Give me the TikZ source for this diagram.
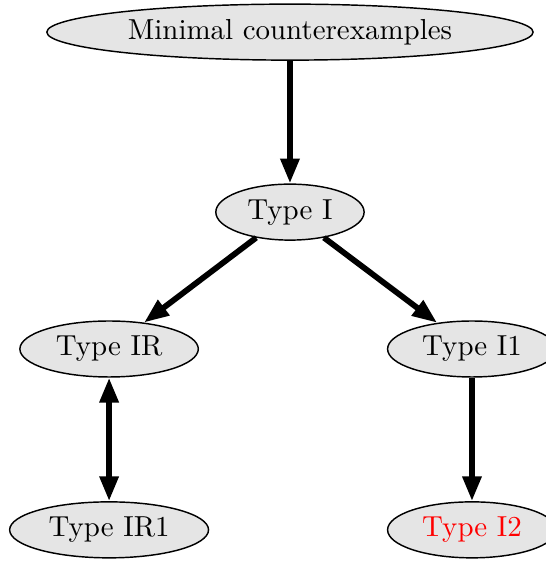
\documentclass[tikz,border=0pt]{standalone}
\usepackage{xcolor}
\usepackage{tikz}
\usetikzlibrary{positioning, calc, shapes.geometric, arrows.meta}
\tikzset{
	kind/.style={shape=ellipse, draw, line width=0.5pt, fill=gray!20, inner xsep=3.4pt, inner ysep=2.4pt},
	arr/.style={line width=2pt, -{Triangle[length=8.6pt, width=6.3pt]}},
	biarr/.style={line width=2pt, {Triangle[length=8.6pt, width=6.3pt]}-{Triangle[length=8.6pt, width=6.3pt]}}
}

\begin{document}
\begin{tikzpicture}[on grid, node distance = 62.2pt and 62.5pt]
\node[kind] (mc) {Minimal counterexamples};
\useasboundingbox ($(mc.center)+(-100.2pt,11.1pt)$) rectangle ($(mc.center)+(88.4pt,-183.8pt)$);
\node[kind, below = of mc] (ti) {Type I};

\node[kind, below left = 47.3pt and 62.5pt of ti] (tir) {Type IR};
\node[kind, below right = 47.3pt and 62.9pt of ti] (ti1) {Type I1};

\node[kind, below = 62.5pt of tir] (tir1) {Type IR1};
\node[kind, below = 62.5pt of ti1, text=red] (ti2) {Type I2};

\draw[arr] (mc) -- (ti);
\draw[arr] (ti) -- (tir);
\draw[arr] (ti) -- (ti1);
\draw[biarr] (tir) -- (tir1);
\draw[arr] (ti1) -- (ti2);
\end{tikzpicture}
\end{document}
